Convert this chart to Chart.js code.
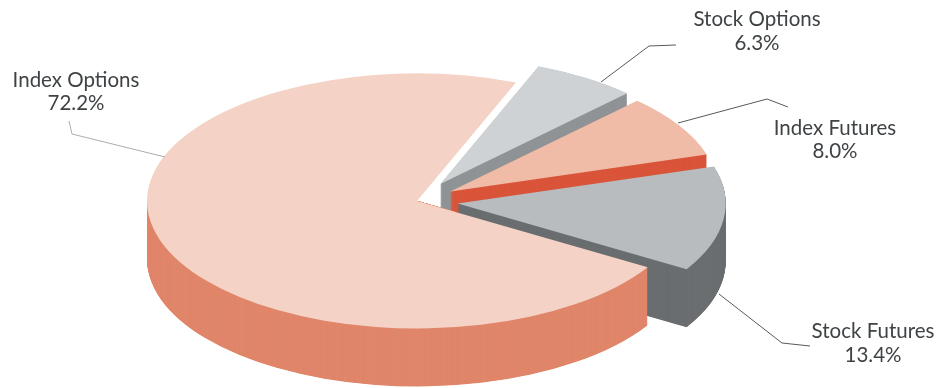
<!DOCTYPE html>
<html>
<head>
<meta charset="utf-8">
<title>Derivatives turnover by product</title>
<script src="https://cdn.jsdelivr.net/npm/chart.js@4/dist/chart.umd.min.js"></script>
<style>
  html, body { margin: 0; padding: 0; background: #fff; }
  #wrap { position: relative; width: 938px; height: 388px; }
</style>
</head>
<body>
<div id="wrap"><canvas id="pie"></canvas></div>
<script>
// back-to-front order, each slice paints over the wall of the one before it
const products = ["Stock Options", "Index Futures", "Stock Futures", "Index Options"];
const shares = [6.3, 8.0, 13.4, 72.2];

const topColors = ["#ced2d5", "#f0bca8", "#b9bcbf", "#f4d3c6"];
const wallColors = ["#8f9496", "#d9553a", "#6a6e70", "#e0866a"];

// how far each slice is pulled out, and its radius, before flattening
const explode = [43, 39, 41, 0];
const radii = [268, 268, 268, 270];

const center = { x: 417, y: 201 };
const flatten = 0.472;
const depth = 58;

// label text anchors and leader lines
const labelX = [757, 835, 873, 76];
const labelY = [26, 135, 338, 87];
const labelGap = [24, 23, 24, 23];
const leaderColors = ["#555a5c", "#555a5c", "#555a5c", "#a9adaf"];
const leaders = [
  [[601, 82], [649, 46], [676, 45]],
  [[678, 123], [767, 99], [788, 107]],
  [[719, 294], [782, 343], [810, 346]],
  [[165, 157], [72, 134], [69, 121]],
];

function drawArcFlat(ctx, arc, i, dy, color) {
  const mid = (arc.startAngle + arc.endAngle) / 2;
  const k = radii[i] / arc.outerRadius;
  const base = arc.options;
  arc.options = Object.assign({}, base, { backgroundColor: color });
  ctx.save();
  ctx.translate(
    center.x + Math.cos(mid) * explode[i],
    center.y + Math.sin(mid) * explode[i] * flatten + dy
  );
  ctx.scale(k, k * flatten);
  ctx.translate(-arc.x, -arc.y);
  arc.draw(ctx);
  ctx.restore();
  arc.options = base;
}

// the big slice only shows its outer rim, not the faces along its cuts
function clipToRim(ctx, arc, i, chart) {
  const cornerX = center.x + Math.cos(arc.startAngle) * radii[i];
  const cornerY = center.y + Math.sin(arc.startAngle) * radii[i] * flatten;
  ctx.beginPath();
  ctx.moveTo(0, chart.height);
  ctx.lineTo(0, center.y);
  ctx.lineTo(center.x, center.y);
  ctx.lineTo(cornerX, cornerY);
  ctx.lineTo(cornerX, chart.height);
  ctx.closePath();
  ctx.clip();
}

// squashes the pie into an ellipse and stacks it to fake the 3d wall
const flatPie = {
  id: "flatPie",
  beforeDatasetsDraw(chart) {
    const ctx = chart.ctx;
    chart.getDatasetMeta(0).data.forEach((arc, i) => {
      ctx.save();
      if (explode[i] === 0) clipToRim(ctx, arc, i, chart);
      for (let dy = depth; dy > 0; dy -= 0.5) drawArcFlat(ctx, arc, i, dy, wallColors[i]);
      ctx.restore();
      drawArcFlat(ctx, arc, i, 0, topColors[i]);
    });
    return false;
  },
  afterDraw(chart) {
    const ctx = chart.ctx;
    ctx.save();
    ctx.lineWidth = 1;
    leaders.forEach((pts, i) => {
      ctx.strokeStyle = leaderColors[i];
      ctx.beginPath();
      pts.forEach((p, n) => (n ? ctx.lineTo(p[0], p[1]) : ctx.moveTo(p[0], p[1])));
      ctx.stroke();
    });
    ctx.fillStyle = "#3f4345";
    ctx.font = "20.5px Lato";
    ctx.textAlign = "center";
    ctx.textBaseline = "alphabetic";
    products.forEach((name, i) => {
      ctx.fillText(name, labelX[i], labelY[i]);
      ctx.fillText(shares[i].toFixed(1) + "%", labelX[i], labelY[i] + labelGap[i]);
    });
    ctx.restore();
  },
};

new Chart(document.getElementById("pie"), {
  type: "pie",
  data: {
    labels: products,
    datasets: [{ data: shares, backgroundColor: topColors, borderWidth: 0 }],
  },
  options: {
    responsive: true,
    maintainAspectRatio: false,
    animation: false,
    events: [],
    rotation: 21.5,
    plugins: { legend: { display: false }, tooltip: { enabled: false } },
  },
  plugins: [flatPie],
});
</script>
</body>
</html>
